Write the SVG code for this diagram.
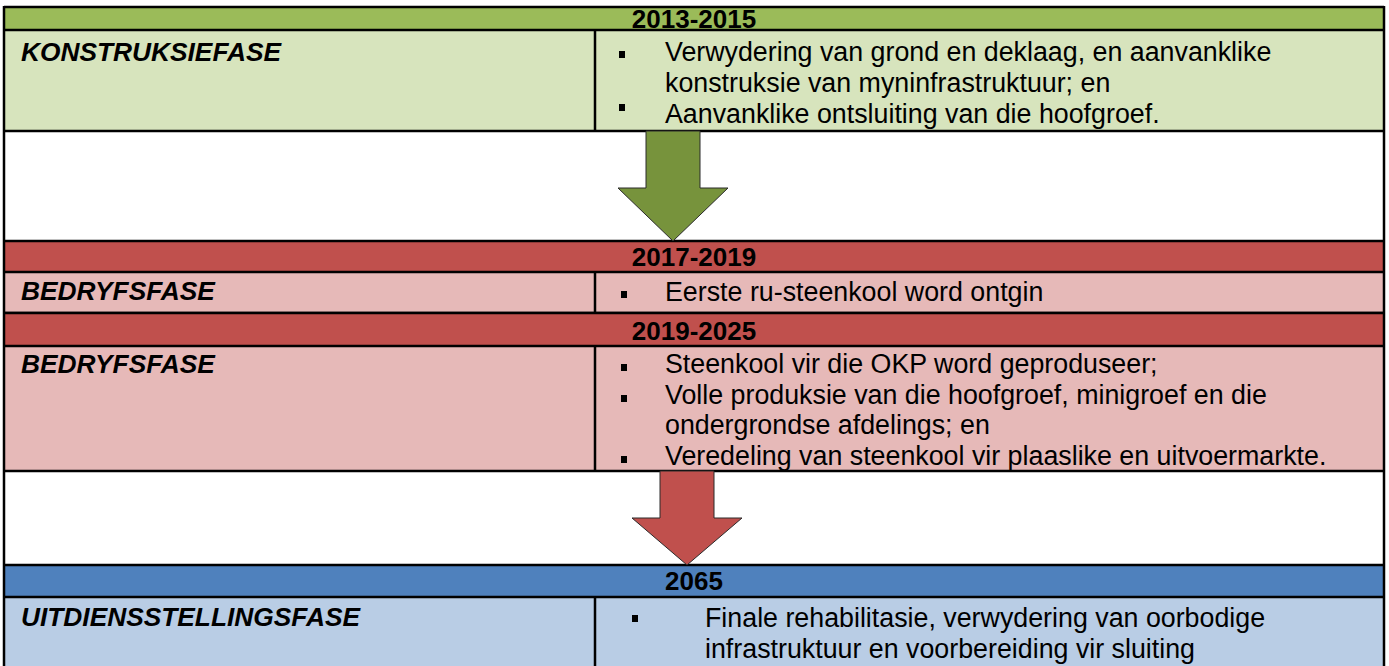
<svg xmlns="http://www.w3.org/2000/svg" width="1389" height="666" viewBox="0 0 1389 666">
<style>
text{font-family:"Liberation Sans",Arial,sans-serif;font-size:26.8px;fill:#000}
.hd{font-weight:bold;text-anchor:middle;font-size:26px}
.lb{font-weight:bold;font-style:italic;font-size:26.3px}
.ln{stroke:#000;stroke-width:2.5;fill:none}
.gh{fill:#9BBB59}.gl{fill:#D7E4BD}
.rh{fill:#C0504D}.rl{fill:#E6B9B8}
.bh{fill:#4F81BD}.bl{fill:#B9CDE5}
.bu{fill:#000}
.ar{stroke:#2b2b2b;stroke-width:1}
</style>
<rect x="0" y="0" width="1389" height="666" fill="#fff"/>
<g id="phase-2013">
<rect class="gh" x="4" y="7" width="1380" height="23"/>
<rect class="gl" x="4" y="30" width="1380" height="101"/>
<text class="hd" x="694" y="28">2013-2015</text>
<text class="lb" x="21" y="61">KONSTRUKSIEFASE</text>
<rect class="bu" x="619" y="51" width="6" height="7"/>
<text x="665" y="61">Verwydering van grond en deklaag, en aanvanklike</text>
<text x="665" y="92">konstruksie van myninfrastruktuur; en</text>
<rect class="bu" x="619" y="104" width="6" height="7"/>
<text x="665" y="123">Aanvanklike ontsluiting van die hoofgroef.</text>
<path class="ln" d="M4 7H1384M4 30H1384M4 131H1384M595 30V131"/>
</g>
<g id="phase-2017">
<rect class="rh" x="4" y="241" width="1380" height="31"/>
<rect class="rl" x="4" y="272" width="1380" height="41"/>
<text class="hd" x="694" y="266">2017-2019</text>
<text class="lb" x="21" y="300">BEDRYFSFASE</text>
<rect class="bu" x="621" y="291" width="6" height="7"/>
<text x="665" y="301">Eerste ru-steenkool word ontgin</text>
<path class="ln" d="M4 241H1384M4 272H1384M4 313H1384M595 272V313"/>
</g>
<g id="phase-2019">
<rect class="rh" x="4" y="313" width="1380" height="33"/>
<rect class="rl" x="4" y="346" width="1380" height="125"/>
<text class="hd" x="694" y="340">2019-2025</text>
<text class="lb" x="21" y="373">BEDRYFSFASE</text>
<rect class="bu" x="621" y="364" width="6" height="7"/>
<text x="665" y="373">Steenkool vir die OKP word geproduseer;</text>
<rect class="bu" x="621" y="395" width="6" height="7"/>
<text x="665" y="404">Volle produksie van die hoofgroef, minigroef en die</text>
<text x="665" y="434">ondergrondse afdelings; en</text>
<rect class="bu" x="621" y="456" width="6" height="7"/>
<text x="665" y="465">Veredeling van steenkool vir plaaslike en uitvoermarkte.</text>
<path class="ln" d="M4 313H1384M4 346H1384M4 471H1384M595 346V471"/>
</g>
<g id="phase-2065">
<rect class="bh" x="4" y="565" width="1380" height="32"/>
<rect class="bl" x="4" y="597" width="1380" height="70"/>
<text class="hd" x="694" y="590">2065</text>
<text class="lb" x="21" y="626">UITDIENSSTELLINGSFASE</text>
<rect class="bu" x="632" y="615" width="6" height="7"/>
<text x="705" y="627">Finale rehabilitasie, verwydering van oorbodige</text>
<text x="705" y="658">infrastruktuur en voorbereiding vir sluiting</text>
<path class="ln" d="M4 565H1384M4 597H1384M595 597V667"/>
</g>
<g id="connectors">
<path class="ar" fill="#77933C" d="M646 131H700V188H728L673 241L618 188H646Z"/>
<path class="ar" fill="#C0504D" d="M660 471H714V518H742L687 565L632 518H660Z"/>
</g>
<path class="ln" d="M4 6V667M1384 6V667"/>
</svg>
